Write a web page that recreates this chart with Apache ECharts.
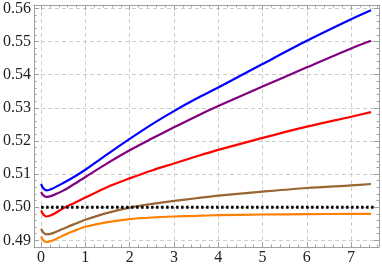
<!DOCTYPE html>
<html>
<head>
<meta charset="utf-8">
<script src="https://cdn.jsdelivr.net/npm/echarts@6/dist/echarts.min.js"></script>
<style>html,body{margin:0;padding:0;background:#fff}#c{width:382px;height:268px}</style>
</head>
<body>
<div id="c"></div>
<script>
const xs = [0, 0.05, 0.12, 0.25, 0.5, 0.75, 1, 1.5, 2, 2.5, 3, 3.5, 4, 5, 6, 7, 7.45];
const blue   = [0.5070, 0.5057, 0.5051, 0.5056, 0.5073, 0.5092, 0.5113, 0.5160, 0.5206, 0.5250, 0.5290, 0.5327, 0.5361, 0.5432, 0.5502, 0.5567, 0.5594];
const purple = [0.5046, 0.5036, 0.5031, 0.5035, 0.5050, 0.5070, 0.5091, 0.5133, 0.5172, 0.5207, 0.5241, 0.5274, 0.5305, 0.5364, 0.5422, 0.5479, 0.5502];
const red    = [0.4990, 0.4978, 0.4972, 0.4977, 0.4997, 0.5013, 0.5029, 0.5061, 0.5087, 0.5111, 0.5132, 0.5153, 0.5173, 0.5209, 0.5243, 0.5273, 0.5287];
const brown  = [0.4935, 0.4924, 0.4918, 0.4921, 0.4935, 0.4949, 0.4962, 0.4983, 0.4999, 0.5010, 0.5019, 0.5027, 0.5035, 0.5047, 0.5058, 0.5066, 0.5070];
const orange = [0.4912, 0.4900, 0.4895, 0.4899, 0.4915, 0.4929, 0.4941, 0.4955, 0.4964, 0.4969, 0.4972, 0.4974, 0.4976, 0.4978, 0.4979, 0.4980, 0.4980];
const refX = [0, 7.55];
const refY = [0.5, 0.5];
const xRange = [-0.16, 7.63];
const yRange = [0.488, 0.561];

const pairs = (a, b) => a.map((v, i) => [v, b[i]]);
const frameColor = '#a0a0a0';
const font = 'Liberation Serif';

function xAxisDef(pos, showLabels) {
  return {
    type: 'value', position: pos, min: xRange[0], max: xRange[1], splitNumber: 8,
    axisLine: { show: true, onZero: false, lineStyle: { color: frameColor, width: 1 } },
    axisTick: { show: true, inside: true, length: 5, lineStyle: { color: frameColor } },
    minorTick: { show: true, splitNumber: 5, length: 2.5, lineStyle: { color: frameColor } },
    splitLine: { show: showLabels, lineStyle: { color: '#cccccc', type: [4, 3], width: 1 } },
    axisLabel: { show: showLabels, margin: 3, color: '#222', fontFamily: font, fontSize: 16,
      formatter: v => Math.abs(v - Math.round(v)) < 1e-6 ? String(Math.round(v)) : '' }
  };
}
function yAxisDef(pos, showLabels) {
  return {
    type: 'value', position: pos, min: yRange[0], max: yRange[1], splitNumber: 8,
    axisLine: { show: true, onZero: false, lineStyle: { color: frameColor, width: 1 } },
    axisTick: { show: true, inside: true, length: 5, lineStyle: { color: frameColor } },
    minorTick: { show: true, splitNumber: 5, length: 2.5, lineStyle: { color: frameColor } },
    splitLine: { show: showLabels, lineStyle: { color: '#cccccc', type: [4, 3], width: 1 } },
    axisLabel: { show: showLabels, margin: 3, color: '#222', fontFamily: font, fontSize: 16,
      formatter: v => Math.abs(v * 100 - Math.round(v * 100)) < 1e-6 ? v.toFixed(2) : '' }
  };
}
function curve(data, color) {
  return { type: 'line', data: pairs(xs, data), showSymbol: false, smooth: 0.3,
    lineStyle: { color: color, width: 2.2 }, itemStyle: { color: color }, z: 3, animation: false };
}

const chart = echarts.init(document.getElementById('c'), null, { renderer: 'canvas' });
chart.setOption({
  animation: false,
  grid: { left: 32, right: 1, top: 5, bottom: 21, containLabel: false },
  xAxis: [xAxisDef('bottom', true), xAxisDef('top', false)],
  yAxis: [yAxisDef('left', true), yAxisDef('right', false)],
  series: [
    curve(orange, '#ff8000'),
    curve(brown, '#996633'),
    { type: 'line', data: pairs(refX, refY), showSymbol: false,
      lineStyle: { color: '#000', width: 3, type: [2.5, 2.5] }, z: 4, animation: false },
    curve(red, '#ff0000'),
    curve(purple, '#800080'),
    curve(blue, '#0000ff')
  ]
});
</script>
</body>
</html>
